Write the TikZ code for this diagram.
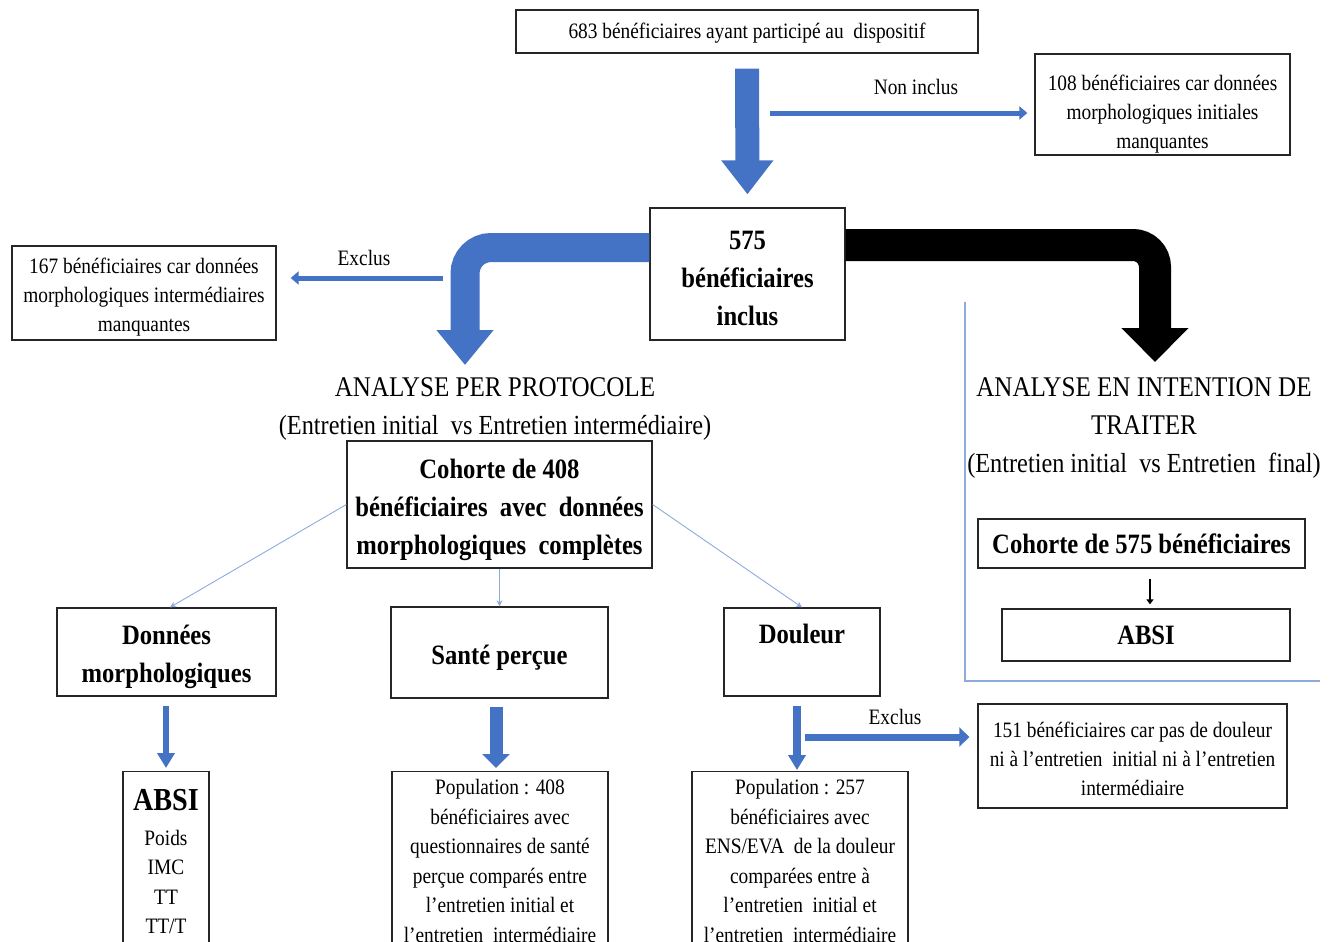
\documentclass[tikz,border=0pt]{standalone}
\usepackage{fontspec}
\setmainfont{Liberation Serif}[FakeStretch=0.88]
\usetikzlibrary{arrows.meta}
\definecolor{barrow}{HTML}{4472C4}
\definecolor{lblue}{HTML}{8FAADC}
\newcommand\fR{\fontsize{22}{29}\selectfont}
\newcommand\fP{\fontsize{22}{29.5}\selectfont}
\newcommand\fB{\fontsize{28}{38}\selectfont\bfseries}
\newcommand\fT{\fontsize{28.5}{38}\selectfont}
\newcommand\fTs{\fontsize{27.6}{38}\selectfont}
\newcommand\up[1]{\rule{0pt}{#1pt}}
\tikzset{
  box/.style={draw=black!85, line width=1.3pt, align=center, inner sep=0pt, font=\fR},
  bbox/.style={box, font=\fB},
  lbl/.style={font=\fR, inner sep=0pt},
  thinblue/.style={draw=lblue, line width=0.9pt, -{Stealth[width=6pt,length=6pt]}},
}
\begin{document}
\begin{tikzpicture}[x=1pt,y=-1pt]
\useasboundingbox (0,0) rectangle (1336,942);
\clip (0,0) rectangle (1336,942);
% nodes
\node[box, minimum width=462pt, minimum height=43pt] (b683) at (747,31.5) {\up{18}683 bénéficiaires ayant participé au \ dispositif};
\node[box, minimum width=255pt, minimum height=101pt] (b108) at (1162.5,104.5) {\up{35}108 bénéficiaires car données\\ morphologiques initiales\\ manquantes};
\node[bbox, minimum width=195pt, minimum height=132pt] (b575) at (747.5,274) {\up{27}575\\ bénéficiaires\\ inclus};
\node[box, minimum width=264pt, minimum height=94pt] (b167) at (144,293) {\up{24}167 bénéficiaires car données\\ morphologiques intermédiaires\\ manquantes};
\node[lbl] (lni) at (916,87) {Non inclus};
\node[lbl] (lex1) at (364,258) {Exclus};
\node[lbl] (lex2) at (895,717) {Exclus};
\node[align=center, font=\fT, inner sep=0pt] (tpp) at (495,409) {ANALYSE PER PROTOCOLE\\ {\fTs(Entretien initial \ vs Entretien intermédiaire)}};
\node[align=center, font=\fT, inner sep=0pt] (titt) at (1144,428) {ANALYSE EN INTENTION DE\\ TRAITER\\ {\fTs(Entretien initial \ vs Entretien \ final)}};
\node[bbox, minimum width=305pt, minimum height=127pt] (b408) at (499.5,504.5) {\up{31}Cohorte de 408\\ bénéficiaires \ avec \ données\\ morphologiques \ complètes};
\node[bbox, minimum width=219pt, minimum height=88pt] (bdm) at (166.5,652) {\up{29}Données\\ morphologiques};
\node[bbox, minimum width=217pt, minimum height=91pt] (bsp) at (499.5,652.5) {\up{30}Santé perçue};
\node[bbox, minimum width=156pt, minimum height=88pt] (bdl) at (802,652) {\up{33}Douleur\\ \strut};
\node[box, minimum width=309pt, minimum height=104pt] (b151) at (1132.5,756) {\up{21}151 bénéficiaires car pas de douleur\\ ni à l’entretien \ initial ni à l’entretien\\ intermédiaire};
\node[bbox, minimum width=327pt, minimum height=49pt] (b575c) at (1141.5,543.5) {Cohorte de 575 bénéficiaires};
\node[bbox, minimum width=288pt, minimum height=52pt] (babsir) at (1146,635) {ABSI};
\node[box, font=\fP, anchor=north, minimum width=86pt, inner sep=6pt] (babsi) at (166,771) {\up{33}{\fontsize{32}{36}\selectfont\bfseries ABSI}\\[5pt] Poids\\ IMC\\ TT\\ TT/T\\ \strut\\ \strut};
\node[box, font=\fP, anchor=north, minimum width=216pt, inner sep=8pt] (bp408) at (500,771) {Population : 408\\ bénéficiaires avec\\ questionnaires de santé\\ perçue comparés entre\\ l’entretien initial et\\ l’entretien \ intermédiaire\\ \strut};
\node[box, font=\fP, anchor=north, minimum width=216pt, inner sep=8pt] (bp257) at (800,771) {Population : 257\\ bénéficiaires avec\\ ENS/EVA \ de la douleur\\ comparées entre à\\ l’entretien \ initial et\\ l’entretien \ intermédiaire\\ \strut};
% coordinates
\coordinate (ni) at (770,113);
\coordinate (ex1) at (443,278);
\coordinate (ex2) at (805,737);
\coordinate (pptip) at (465,365);
\coordinate (itttip) at (1155,362);
% big arrows
\draw[barrow, line width=24pt, -{Triangle[width=50pt,length=34pt]}, shorten <=15pt, shorten >=13pt] (b683.south) -- (b575.north);
\draw[barrow, line width=5pt, -{Triangle[width=13pt,length=8pt]}, shorten >=7pt] (ni) -- (b108.west |- ni);
\draw[barrow, line width=29pt, rounded corners=26pt, -{Triangle[width=55pt,length=35pt]}] ([yshift=26.5pt]b575.west) -| (pptip);
\draw[black, line width=32pt, rounded corners=22pt, -{Triangle[width=65pt,length=34pt]}] ([yshift=29pt]b575.east) -| (itttip);
\draw[barrow, line width=5pt, -{Triangle[width=13pt,length=8pt]}, shorten >=14pt] (ex1) -- (b167.east |- ex1);
% thin blue
\draw[thinblue] (b408.west) -- ([xshift=3.5pt]bdm.north);
\draw[thinblue] (b408.south) -- (bsp.north);
\draw[thinblue] (b408.east) -- (bdl.north);
% medium arrows
\draw[barrow, line width=6.5pt, -{Triangle[width=17pt,length=15pt]}, shorten <=9pt, shorten >=3pt] ([xshift=-0.5pt]bdm.south) -- ([xshift=-0.5pt]bdm.south |- babsi.north);
\draw[barrow, line width=13pt, -{Triangle[width=27pt,length=14pt]}, shorten <=8pt, shorten >=3pt] ([xshift=-3.5pt]bsp.south) -- ([xshift=-3.5pt]bsp.south |- bp408.north);
\draw[barrow, line width=8pt, -{Triangle[width=17pt,length=15pt]}, shorten <=9pt, shorten >=1pt] ([xshift=-5pt]bdl.south) -- ([xshift=-5pt]bdl.south |- bp257.north);
\draw[barrow, line width=7pt, -{Triangle[width=19pt,length=10pt]}, shorten >=8pt] (ex2) -- (b151.west |- ex2);
% ITT
\draw[black, line width=2.5pt, -{Triangle[width=7pt,length=5pt]}, shorten <=10pt, shorten >=4pt] ([xshift=8.5pt]b575c.south) -- ([xshift=8.5pt]b575c.south |- babsir.north);
\draw[lblue, line width=1.2pt] (965,302) -- (965,681) -- (1320,681);
\end{tikzpicture}
\end{document}
